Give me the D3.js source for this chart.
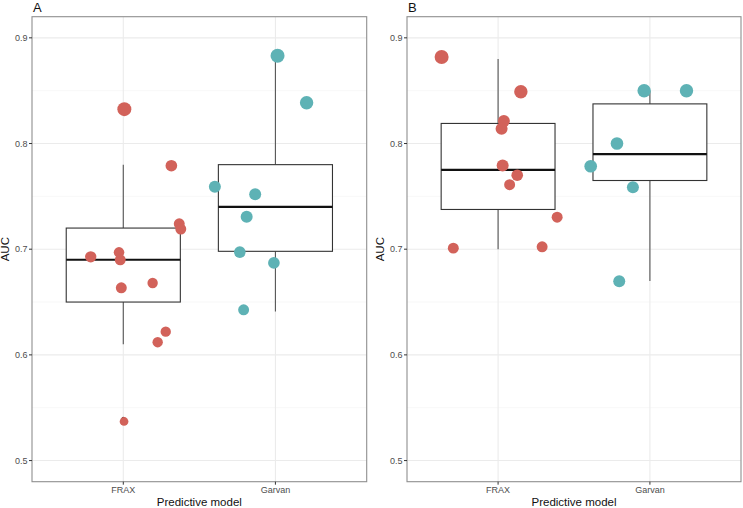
<!DOCTYPE html>
<html><head><meta charset="utf-8">
<script src="https://cdn.jsdelivr.net/npm/d3@7"></script>
<style>body{margin:0;background:#fff}svg{display:block}text{font-family:"Liberation Sans",Arial,sans-serif}</style>
</head><body><svg id="c" width="743" height="508"></svg>
<script>
// ---- data ----
const categories = ["FRAX", "Garvan"];
const yTicks = [0.5, 0.6, 0.7, 0.8, 0.9];
const panelLabels = ["A", "B"];

// Panel A points
const aFraxAUC    = [0.8325, 0.779, 0.724, 0.719, 0.6928, 0.697, 0.690, 0.6635, 0.668, 0.622, 0.612, 0.537];
const aFraxJitter = [0.007, 0.316, 0.368, 0.378, -0.214, -0.028, -0.020, -0.013, 0.193, 0.279, 0.226, 0.005];
const aFraxWeight = [49, 34, 30, 30, 32, 28, 30, 30, 27, 27, 27, 19];
const aGarvanAUC    = [0.883, 0.8385, 0.759, 0.752, 0.7306, 0.6973, 0.687, 0.6427];
const aGarvanJitter = [0.014, 0.205, -0.398, -0.133, -0.189, -0.234, -0.010, -0.209];
const aGarvanWeight = [49, 45, 36, 36, 36, 34, 34, 30];

// Panel B points
const bFraxAUC    = [0.8818, 0.849, 0.8214, 0.814, 0.7792, 0.770, 0.761, 0.7303, 0.701, 0.7023];
const bFraxJitter = [-0.372, 0.150, 0.038, 0.023, 0.030, 0.126, 0.076, 0.389, -0.295, 0.290];
const bFraxWeight = [49, 45, 36, 36, 36, 34, 30, 30, 30, 30];
const bGarvanAUC    = [0.850, 0.850, 0.800, 0.7785, 0.7587, 0.6697];
const bGarvanJitter = [-0.038, 0.241, -0.217, -0.390, -0.112, -0.202];
const bGarvanWeight = [45, 45, 40, 40, 36, 36];

// box stats: [lower whisker, q1, median, q3, upper whisker]
const aBoxFrax   = [0.61, 0.65, 0.69, 0.72, 0.78];
const aBoxGarvan = [0.641, 0.698, 0.74, 0.78, 0.883];
const bBoxFrax   = [0.70, 0.7376, 0.775, 0.819, 0.88];
const bBoxGarvan = [0.67, 0.765, 0.79, 0.8375, 0.85];
const aOutliers = [0.54, 0.8325];
const bOutliers = [];

const colors = {FRAX: "#d2625a", Garvan: "#5eb2b5"};

const panels = [
  {label: panelLabels[0], left: 32, right: 366.7,
   groups: [
     {cat: "FRAX", auc: aFraxAUC, jit: aFraxJitter, w: aFraxWeight, box: aBoxFrax, out: aOutliers},
     {cat: "Garvan", auc: aGarvanAUC, jit: aGarvanJitter, w: aGarvanWeight, box: aBoxGarvan, out: []}
   ]},
  {label: panelLabels[1], left: 407, right: 741,
   groups: [
     {cat: "FRAX", auc: bFraxAUC, jit: bFraxJitter, w: bFraxWeight, box: bBoxFrax, out: bOutliers},
     {cat: "Garvan", auc: bGarvanAUC, jit: bGarvanJitter, w: bGarvanWeight, box: bBoxGarvan, out: []}
   ]}
];

const svg = d3.select("#c");
const pTop = 16.7, pBottom = 481.7;
const y = d3.scaleLinear().domain([0.48, 0.92]).range([pBottom, pTop]);
const r = d3.scaleSqrt().domain([0, 49]).range([0, 7]);
const minorTicks = [0.55, 0.65, 0.75, 0.85];

panels.forEach(p => {
  const x = d3.scaleLinear().domain([0.4, 2.6]).range([p.left, p.right]);
  const xc = c => x(categories.indexOf(c) + 1);
  const g = svg.append("g");
  g.append("rect").attr("x", p.left).attr("y", pTop).attr("width", p.right - p.left).attr("height", pBottom - pTop).attr("fill", "#fff");
  g.selectAll(".mn").data(minorTicks).join("line")
    .attr("x1", p.left).attr("x2", p.right).attr("y1", d => y(d)).attr("y2", d => y(d))
    .attr("stroke", "#f2f2f2").attr("stroke-width", 0.6);
  g.selectAll(".mj").data(yTicks).join("line")
    .attr("x1", p.left).attr("x2", p.right).attr("y1", d => y(d)).attr("y2", d => y(d))
    .attr("stroke", "#ebebeb").attr("stroke-width", 1.1);
  g.selectAll(".vx").data(categories).join("line")
    .attr("x1", d => xc(d)).attr("x2", d => xc(d)).attr("y1", pTop).attr("y2", pBottom)
    .attr("stroke", "#ebebeb").attr("stroke-width", 1.1);

  const hw = 0.375 * (x(1) - x(0));
  p.groups.forEach(gr => {
    const cx = xc(gr.cat), b = gr.box;
    g.append("line").attr("x1", cx).attr("x2", cx).attr("y1", y(b[3])).attr("y2", y(b[4]))
      .attr("stroke", "#555").attr("stroke-width", 1.1);
    g.append("line").attr("x1", cx).attr("x2", cx).attr("y1", y(b[1])).attr("y2", y(b[0]))
      .attr("stroke", "#555").attr("stroke-width", 1.1);
    g.append("rect").attr("x", cx - hw).attr("y", y(b[3])).attr("width", 2 * hw).attr("height", y(b[1]) - y(b[3]))
      .attr("fill", "#fff").attr("stroke", "#333").attr("stroke-width", 1.1);
    g.append("line").attr("x1", cx - hw).attr("x2", cx + hw).attr("y1", y(b[2])).attr("y2", y(b[2]))
      .attr("stroke", "#111").attr("stroke-width", 2.2);
    g.selectAll(null).data(gr.out).join("circle")
      .attr("cx", cx).attr("cy", d => y(d)).attr("r", 1.6).attr("fill", "#222");
  });
  p.groups.forEach(gr => {
    const base = categories.indexOf(gr.cat) + 1;
    g.selectAll(null).data(gr.auc.map((v, i) => ({v, j: gr.jit[i], w: gr.w[i]}))).join("circle")
      .attr("cx", d => x(base + d.j)).attr("cy", d => y(d.v)).attr("r", d => r(d.w))
      .attr("fill", colors[gr.cat]);
  });
  g.append("rect").attr("x", p.left).attr("y", pTop).attr("width", p.right - p.left).attr("height", pBottom - pTop)
    .attr("fill", "none").attr("stroke", "#8f8f8f").attr("stroke-width", 1.1);
  g.selectAll(".yt").data(yTicks).join("line")
    .attr("x1", p.left - 3).attr("x2", p.left).attr("y1", d => y(d)).attr("y2", d => y(d))
    .attr("stroke", "#333").attr("stroke-width", 1);
  g.selectAll(".yl").data(yTicks).join("text")
    .attr("x", p.left - 4.5).attr("y", d => y(d)).attr("dy", "0.35em").attr("text-anchor", "end")
    .attr("font-size", 9).attr("fill", "#4d4d4d").text(d => d.toFixed(1));
  g.selectAll(".xt").data(categories).join("line")
    .attr("x1", d => xc(d)).attr("x2", d => xc(d)).attr("y1", pBottom).attr("y2", pBottom + 3)
    .attr("stroke", "#333").attr("stroke-width", 1);
  g.selectAll(".xl").data(categories).join("text")
    .attr("x", d => xc(d)).attr("y", pBottom + 11.5).attr("text-anchor", "middle")
    .attr("font-size", 9).attr("fill", "#4d4d4d").text(d => d);
  g.append("text").attr("x", (p.left + p.right) / 2).attr("y", 505.5).attr("text-anchor", "middle")
    .attr("font-size", 11.5).attr("fill", "#111").text("Predictive model");
  g.append("text").attr("transform", `translate(${p.left - 23},${(pTop + pBottom) / 2}) rotate(-90)`)
    .attr("text-anchor", "middle").attr("font-size", 11.5).attr("fill", "#111").text("AUC");
  g.append("text").attr("x", p.left + 1).attr("y", 11.5).attr("font-size", 13).attr("fill", "#111").text(p.label);
});
</script></body></html>
